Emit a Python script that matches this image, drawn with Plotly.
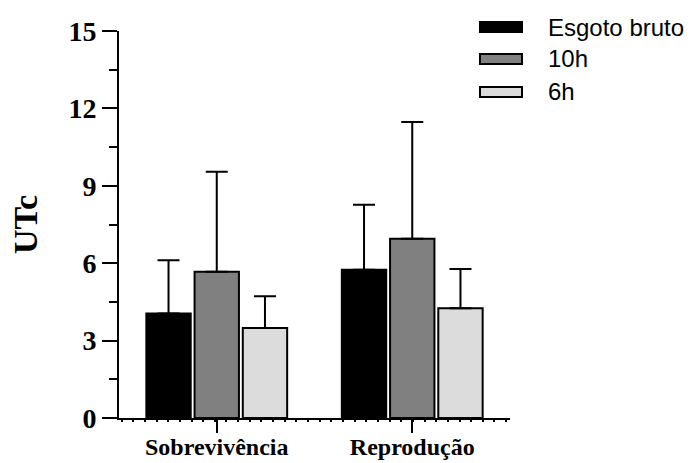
import plotly.graph_objects as go

categories = ["Sobrevivência", "Reprodução"]
series_names = ["Esgoto bruto", "10h", "6h"]
means = {
    "Esgoto bruto": [4.05, 5.75],
    "10h": [5.67, 6.95],
    "6h": [3.49, 4.25],
}
sd_up = {
    "Esgoto bruto": [2.06, 2.52],
    "10h": [3.87, 4.52],
    "6h": [1.23, 1.53],
}
colors = {"Esgoto bruto": "#000000", "10h": "#808080", "6h": "#dcdcdc"}
y_ticks = [0, 3, 6, 9, 12, 15]

x_pos = list(range(len(categories)))

fig = go.Figure()
for name in series_names:
    fig.add_trace(go.Bar(
        x=x_pos, y=means[name], name=name,
        marker=dict(color=colors[name], line=dict(color="#000000", width=2)),
        error_y=dict(type="data", symmetric=False, array=sd_up[name],
                     arrayminus=[0] * len(categories),
                     color="#000000", thickness=2, width=11),
        showlegend=False,
    ))

# custom legend (swatches + labels)
PX0, PX1, PY0, PY1 = 119.3, 510, 418.3, 31
def px(x):
    return (x - PX0) / (PX1 - PX0)
def py(y):
    return (PY0 - y) / (PY0 - PY1)

leg_x0, leg_x1, leg_tx = 480, 522, 546
leg_y = [27, 59, 92]
for i, name in enumerate(series_names):
    y = leg_y[i]
    fig.add_shape(type="rect", xref="paper", yref="paper",
                  x0=px(leg_x0), x1=px(leg_x1), y0=py(y + 5), y1=py(y - 5),
                  fillcolor=colors[name], line=dict(color="#000000", width=2))
    fig.add_annotation(xref="paper", yref="paper", x=px(leg_tx), y=py(y),
                       xanchor="left", yanchor="middle", text=name, showarrow=False,
                       font=dict(family="Liberation Sans, Arial", size=24, color="#000000"))

fig.update_layout(
    width=691, height=463,
    margin=dict(l=119.3, r=181, t=31, b=44.7),
    plot_bgcolor="white", paper_bgcolor="white",
    barmode="group", bargap=0.26, bargroupgap=0.08,
    xaxis=dict(
        range=[-0.5, 1.5], tickvals=x_pos, ticktext=categories,
        showline=True, linecolor="#000000", linewidth=2,
        ticks="outside", ticklen=13, tickwidth=2, tickcolor="#000000",
        ticklabelstandoff=-7,
        tickfont=dict(family="Liberation Serif, Times New Roman", size=24, color="#000000", weight="bold"),
        showgrid=False, zeroline=False,
        minor=dict(ticks="outside", ticklen=2, tickwidth=2, tickcolor="#000000",
                   tick0=-0.427, dtick=0.0596, showgrid=False),
        automargin=False,
    ),
    yaxis=dict(
        range=[0, 15], tickvals=y_ticks,
        showline=True, linecolor="#000000", linewidth=2,
        ticks="outside", ticklen=15, tickwidth=2, tickcolor="#000000",
        tickfont=dict(family="Liberation Serif, Times New Roman", size=28, color="#000000", weight="bold"),
        showgrid=False, zeroline=False,
        minor=dict(ticks="outside", ticklen=8, tickwidth=2, tickcolor="#000000",
                   dtick=1.5, showgrid=False),
        title=dict(text="UTc", standoff=21,
                   font=dict(family="Liberation Serif, Times New Roman", size=34, color="#000000", weight="bold")),
        automargin=False,
    ),
)

fig.write_html("out.html")
